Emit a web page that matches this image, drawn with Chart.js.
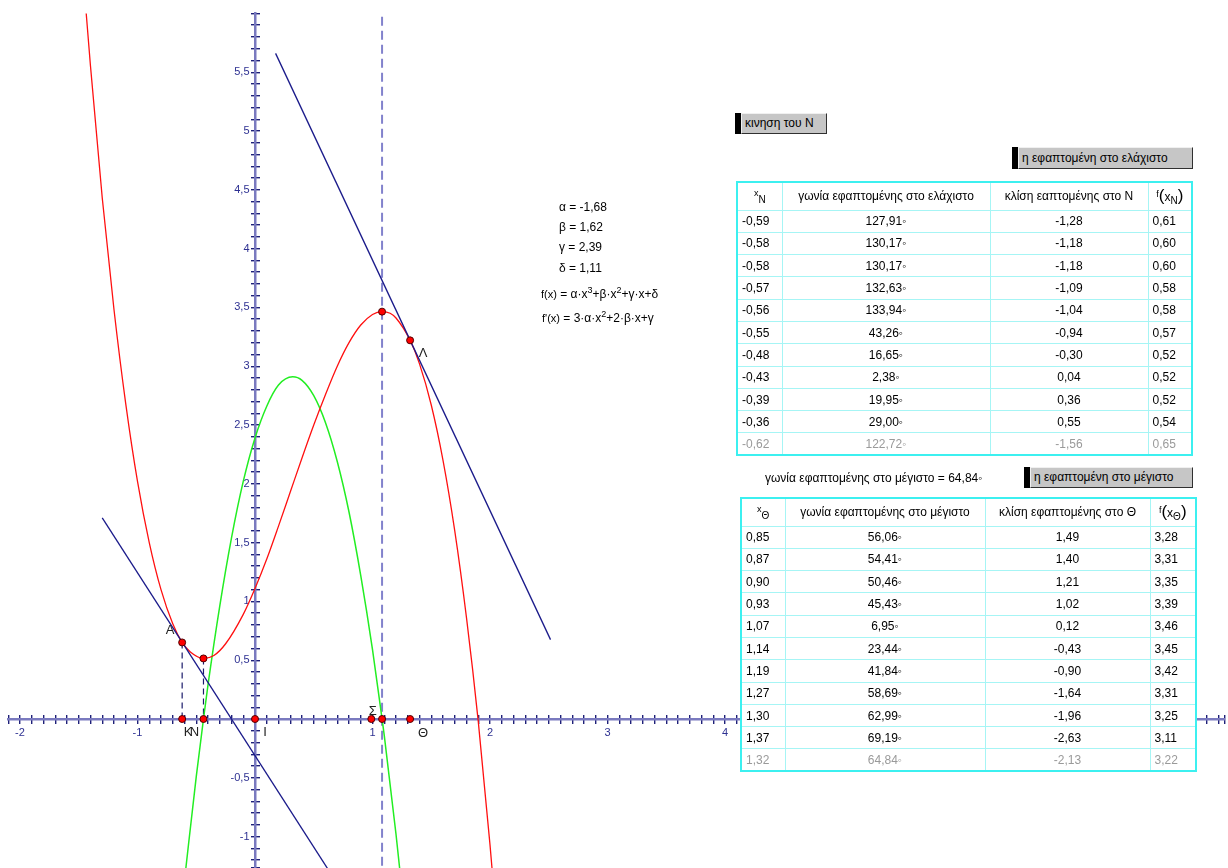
<!DOCTYPE html>
<html>
<head>
<meta charset="utf-8">
<script src="https://cdn.jsdelivr.net/npm/chart.js@4.4.1/dist/chart.umd.min.js"></script>
<style>
body { margin: 0; background: #fff; font-family: Arial, "Liberation Sans", sans-serif; }
#wrap { position: relative; width: 1228px; height: 868px; overflow: hidden; }
#chart { position: absolute; left: 0; top: 0; }
.txt { position: absolute; font-size: 12px; line-height: 14px; color: #000; white-space: nowrap; }
.txt sup { font-size: 9px; vertical-align: 5px; line-height: 0; }
.btn { position: absolute; border-left: 6px solid #000; box-sizing: border-box; }
.btn span { display: block; box-sizing: border-box; height: 100%; background: #c6c6c6; border: 1px solid; border-color: #f0f0f0 #303030 #303030 #f0f0f0;
  font-size: 12px; padding: 0 3px; white-space: nowrap; }
table.tab { position: absolute; border-collapse: collapse; border: 2px solid #3cf0f0; background: #fff; font-size: 12px; table-layout: fixed; }
table.tab td { border: 1px solid #a6f5f5; padding: 0 4px; white-space: nowrap; overflow: hidden; }
table.tab tr.last td { color: #9a9a9a; }
.sm { font-size: 9px; vertical-align: 4px; }
.par { font-size: 17px; }
</style>
</head>
<body>
<div id="wrap">
<canvas id="chart" width="1228" height="868"></canvas>

<div class="txt" style="left:559px;top:200px">α = -1,68</div>
<div class="txt" style="left:559px;top:220px">β = 1,62</div>
<div class="txt" style="left:559px;top:240px">γ = 2,39</div>
<div class="txt" style="left:559px;top:261px">δ = 1,11</div>
<div class="txt" style="left:541px;top:287px"><span style="font-size:11px">f(x)</span> = α·x<sup>3</sup>+β·x<sup>2</sup>+γ·x+δ</div>
<div class="txt" style="left:542px;top:311px"><span style="font-size:11px">f'(x)</span> = 3·α·x<sup>2</sup>+2·β·x+γ</div>

<div class="btn" style="left:735px;top:113px;width:92px;height:21px"><span style="line-height:19px">κινηση του Ν</span></div>
<div class="btn" style="left:1012px;top:147px;width:181px;height:22px"><span style="line-height:20px">η εφαπτομένη στο ελάχιστο</span></div>
<div class="btn" style="left:1024px;top:467px;width:169px;height:21px"><span style="line-height:19px">η εφαπτομένη στο μέγιστο</span></div>
<div class="txt" style="left:765px;top:471px">γωνία εφαπτομένης στο μέγιστο = 64,84◦</div>

<table class="tab" id="tabMin" style="left:736px;top:181px;width:457px"></table>
<table class="tab" id="tabMax" style="left:740px;top:497px;width:457px"></table>
</div>

<script>
// f(x) = α·x³+β·x²+γ·x+δ
var redX = [-1.45, -1.4, -1.3, -1.2, -1.1, -1.0, -0.9, -0.8, -0.7, -0.62, -0.55, -0.4385, -0.35, -0.25, -0.1, 0,
  0.1, 0.2, 0.3, 0.4, 0.5, 0.6, 0.7, 0.8, 0.9, 1.0, 1.0813, 1.15, 1.2, 1.32, 1.4, 1.5, 1.6, 1.7, 1.8, 1.9, 2.0, 2.05];
var redY = [6.17, 5.55, 4.43, 3.48, 2.68, 2.02, 1.50, 1.10, 0.81, 0.651, 0.57, 0.515, 0.54, 0.64, 0.89, 1.11,
  1.36, 1.64, 1.93, 2.22, 2.50, 2.76, 3.00, 3.20, 3.35, 3.44, 3.464, 3.45, 3.41, 3.22, 3.02, 2.67, 2.20, 1.60, 0.86, -0.02, -1.07, -1.66];

// f'(x), green parabola
var greenX = [-0.6, -0.5, -0.4385, -0.4, -0.3, -0.2, -0.1, 0, 0.1, 0.2, 0.321, 0.4, 0.5, 0.6, 0.7, 0.8, 0.9, 1.0, 1.0813, 1.1, 1.2, 1.3];
var greenY = [-1.37, -0.49, 0, 0.29, 0.96, 1.54, 2.02, 2.39, 2.66, 2.84, 2.91, 2.88, 2.75, 2.52, 2.19, 1.76, 1.22, 0.59, 0, -0.14, -0.98, -1.92];

// tangent segments (blue)
var tanMinX = [-1.30, 0.70];
var tanMinY = [1.71, -1.40];
var tanMaxX = [0.175, 2.515];
var tanMaxY = [5.66, 0.675];

// points on the curve: A, min N, max, Λ
var curvePtX = [-0.62, -0.4385, 1.0813, 1.32];
var curvePtY = [0.651, 0.515, 3.464, 3.22];
// points on the x axis: K, N, I, Σ, max foot, Θ
var axisPtX = [-0.62, -0.4385, 0, 0.99, 1.0813, 1.32];

// table: tangent at the minimum
var minXs = [-0.59, -0.58, -0.58, -0.57, -0.56, -0.55, -0.48, -0.43, -0.39, -0.36, -0.62];
var minAngle = [127.91, 130.17, 130.17, 132.63, 133.94, 43.26, 16.65, 2.38, 19.95, 29.00, 122.72];
var minSlope = [-1.28, -1.18, -1.18, -1.09, -1.04, -0.94, -0.30, 0.04, 0.36, 0.55, -1.56];
var minF = [0.61, 0.60, 0.60, 0.58, 0.58, 0.57, 0.52, 0.52, 0.52, 0.54, 0.65];

// table: tangent at the maximum
var maxXs = [0.85, 0.87, 0.90, 0.93, 1.07, 1.14, 1.19, 1.27, 1.30, 1.37, 1.32];
var maxAngle = [56.06, 54.41, 50.46, 45.43, 6.95, 23.44, 41.84, 58.69, 62.99, 69.19, 64.84];
var maxSlope = [1.49, 1.40, 1.21, 1.02, 0.12, -0.43, -0.90, -1.64, -1.96, -2.63, -2.13];
var maxF = [3.28, 3.31, 3.35, 3.39, 3.46, 3.45, 3.42, 3.31, 3.25, 3.11, 3.22];

function fmt(v) { return v.toFixed(2).replace('.', ','); }

function fillTable(id, head, widths, xs, ang, sl, fv) {
  var t = document.getElementById(id);
  var html = '<colgroup>';
  widths.forEach(function(w) { html += '<col style="width:' + w + 'px">'; });
  html += '</colgroup><tr style="height:28px">';
  head.forEach(function(h) { html += '<td style="text-align:center">' + h + '</td>'; });
  html += '</tr>';
  for (var i = 0; i < xs.length; i++) {
    html += '<tr style="height:22.3px"' + (i == xs.length - 1 ? ' class="last"' : '') + '>' +
      '<td>' + fmt(xs[i]) + '</td>' +
      '<td style="text-align:center">' + fmt(ang[i]) + '◦</td>' +
      '<td style="text-align:center">' + fmt(sl[i]) + '</td>' +
      '<td>' + fmt(fv[i]) + '</td></tr>';
  }
  t.innerHTML = html;
}

fillTable('tabMin',
  ['<span class="sm">x</span><sub>Ν</sub>', 'γωνία εφαπτομένης στο ελάχιστο', 'κλίση εαπτομένης στο Ν',
   '<span class="sm">f</span><span class="par">(</span>x<sub>Ν</sub><span class="par">)</span>'],
  [45, 208, 158, 44], minXs, minAngle, minSlope, minF);
fillTable('tabMax',
  ['<span class="sm">x</span><sub>Θ</sub>', 'γωνία εφαπτομένης στο μέγιστο', 'κλίση εφαπτομένης στο Θ',
   '<span class="sm">f</span><span class="par">(</span>x<sub>Θ</sub><span class="par">)</span>'],
  [44, 200, 165, 46], maxXs, maxAngle, maxSlope, maxF);

function pts(xs, ys) {
  return xs.map(function(x, i) { return {x: x, y: ys[i]}; });
}

var FONT = 'Arial, "Liberation Sans", sans-serif';
var AXIS = '#7a7abf', TICK = '#1e2078', LBL = '#2e3192';
var X_MIN = -2.1, X_MAX = 8.25, Y_MIN = -1.267, Y_MAX = 6;
var PX = 117.6;

// names drawn next to points: [set, index, name, dx, dy]
var pointLabels = [
  ['c', 0, 'A', -12, -12], ['c', 3, 'Λ', 13, 13],
  ['a', 0, 'Κ', 6, 13], ['a', 1, 'Ν', -9, 13], ['a', 2, 'I', 10, 13],
  ['a', 3, 'Σ', 1.5, -8], ['a', 5, 'Θ', 13, 14]
];

var labelPlugin = {
  id: 'pointNames',
  afterDatasetsDraw: function(chart) {
    var c = chart.ctx, sx = chart.scales.x, sy = chart.scales.y;
    c.save();
    c.font = '13px ' + FONT;
    c.fillStyle = '#222';
    c.textAlign = 'center';
    c.textBaseline = 'middle';
    pointLabels.forEach(function(p) {
      var x = p[0] == 'c' ? curvePtX[p[1]] : axisPtX[p[1]];
      var y = p[0] == 'c' ? curvePtY[p[1]] : 0;
      c.fillText(p[2], sx.getPixelForValue(x) + p[3], sy.getPixelForValue(y) + p[4]);
    });
    c.restore();
  }
};

function isMult(v, step) {
  var q = v / step;
  return Math.abs(q - Math.round(q)) < 1e-6;
}

function range(axis) {
  return axis == 'x' ? { min: X_MIN, max: X_MAX } : { min: Y_MIN, max: Y_MAX };
}

// axis line only
function lineAxis(axis, pos) {
  return Object.assign({ type: 'linear', axis: axis, position: pos,
    border: { display: true, color: AXIS, width: 2.5 },
    grid: { drawOnChartArea: false, drawTicks: false },
    ticks: { display: false, stepSize: 1, padding: 0 } }, range(axis));
}

// tick marks only, every 0.1
function tickAxis(axis, pos, len) {
  return Object.assign({ type: 'linear', axis: axis, position: pos,
    border: { display: false },
    grid: { drawOnChartArea: false, drawTicks: true, tickLength: len, color: TICK, lineWidth: 1.4 },
    ticks: { display: false, stepSize: 0.1, autoSkip: false, padding: 0, font: { size: 1 } } }, range(axis));
}

// labels only; an empty array keeps the tick but takes no room
function labelAxis(axis, pos, every, fmtFn) {
  return Object.assign({ type: 'linear', axis: axis, position: pos,
    border: { display: false },
    grid: { display: false, drawTicks: false },
    ticks: { stepSize: 0.1, autoSkip: false, padding: 0, color: LBL, maxRotation: 0, font: { size: 11, family: FONT },
      callback: function(v) {
        if (!isMult(v, every) || Math.abs(v) < 1e-6) return [];
        return fmtFn(v);
      } } }, range(axis));
}

var ctx = document.getElementById('chart');
var chart = new Chart(ctx, {
  type: 'scatter',
  data: {
    datasets: [
      { data: pts(curvePtX, curvePtY).concat(axisPtX.map(function(x) { return {x: x, y: 0}; })),
        pointRadius: 3.5, pointBackgroundColor: '#ff0000', pointBorderColor: '#500000', pointBorderWidth: 1 },
      { data: pts(tanMinX, tanMinY), showLine: true, borderColor: '#1a1a8a', borderWidth: 1.3, pointRadius: 0 },
      { data: pts(tanMaxX, tanMaxY), showLine: true, borderColor: '#1a1a8a', borderWidth: 1.3, pointRadius: 0 },
      { data: pts(redX, redY), showLine: true, borderColor: '#ff1010', borderWidth: 1.3, pointRadius: 0,
        cubicInterpolationMode: 'monotone' },
      { data: pts(greenX, greenY), showLine: true, borderColor: '#22ee22', borderWidth: 1.5, pointRadius: 0,
        cubicInterpolationMode: 'monotone' },
      { data: [{x: curvePtX[0], y: curvePtY[0]}, {x: curvePtX[0], y: 0}], showLine: true, borderColor: '#1a1a6a',
        borderWidth: 1.2, borderDash: [6, 4], pointRadius: 0 },
      { data: [{x: curvePtX[1], y: curvePtY[1]}, {x: curvePtX[1], y: 0}], showLine: true, borderColor: '#1a1a6a',
        borderWidth: 1.2, borderDash: [6, 4], pointRadius: 0 },
      { data: [{x: curvePtX[2], y: Y_MIN - 0.1}, {x: curvePtX[2], y: Y_MAX + 0.1}], showLine: true, borderColor: '#8282cc',
        borderWidth: 2, borderDash: [9, 5], pointRadius: 0 }
    ]
  },
  options: {
    responsive: false,
    animation: false,
    events: [],
    layout: { autoPadding: false, padding: { left: 8.25, right: 3.6, top: 13.4, bottom: 0 } },
    plugins: { legend: { display: false }, tooltip: { enabled: false } },
    scales: {
      x: lineAxis('x', { y: 0 }),
      y: lineAxis('y', { x: 0 }),
      xtick: tickAxis('x', { y: 4.5 / PX }, 9),
      ytick: tickAxis('y', { x: 4.5 / PX }, 9),
      xlab: labelAxis('x', { y: -7.4 / PX }, 1, function(v) { return v > 7.5 ? [] : String(Math.round(v)); }),
      ylab: labelAxis('y', { x: -5.5 / PX }, 0.5, function(v) {
        return v > 5.9 ? [] : String(Math.round(v * 2) / 2).replace('.', ',');
      })
    }
  },
  plugins: [labelPlugin]
});
</script>
</body>
</html>
